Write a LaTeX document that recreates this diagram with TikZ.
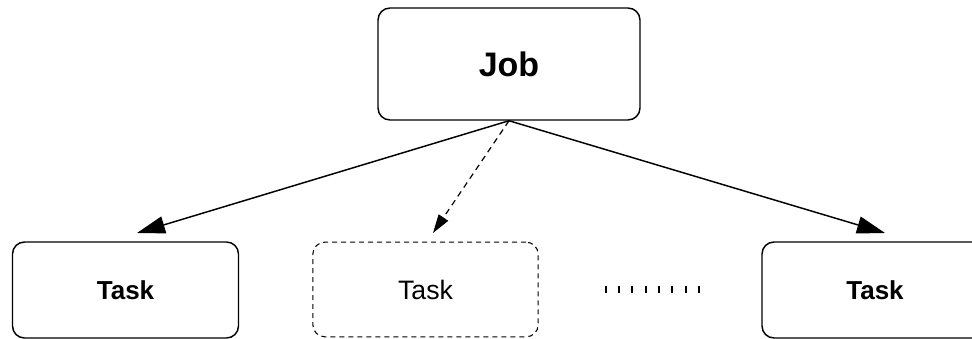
\documentclass[tikz,border=0pt]{standalone}
\usepackage{fontspec}
\setmainfont{Liberation Sans}
\usepackage{tikz}
\usetikzlibrary{arrows.meta}

\tikzset{
  jobbox/.style={draw, line width=1.1pt, rounded corners=9pt, minimum width=196.5pt, minimum height=84pt, font=\fontsize{25.5}{30}\selectfont\bfseries},
  taskbox/.style={draw, line width=1.1pt, rounded corners=9pt, minimum width=169.5pt, minimum height=72pt, font=\fontsize{19.5}{23}\selectfont\bfseries},
  ghostbox/.style={draw, line width=0.8pt, dash pattern={on 3.75pt off 3pt}, rounded corners=9pt, minimum width=169pt, minimum height=71pt, font=\fontsize{20}{24}\selectfont},
  bigarrow/.style={line width=1.1pt, -{Triangle[length=21pt,width=13pt]}},
  smallarrow/.style={line width=0.9pt, dash pattern={on 4.5pt off 3.5pt}, -{Triangle[length=14pt,width=8.5pt]}}
}

\begin{document}
\begin{tikzpicture}[x=0.75pt,y=0.75pt,yscale=-1,xscale=1]
\useasboundingbox (0,0) rectangle (972,339);

%Shape: Job box
\node [jobbox] (job) at (509,64) {Job};
%Shape: Task boxes
\node [taskbox] (taskleft) at (125.5,290) {Task};
\node [ghostbox] (taskmid) at (425.5,289.5) {Task};
\node [taskbox] (taskright) at (875,290) {Task};

%Arrow ends
\coordinate (tipleft) at (137,233);
\coordinate (tipmid) at (433,233);
\coordinate (tipright) at (885,233);

%Straight Lines
\draw [bigarrow] (job.south) -- (tipleft);
\draw [smallarrow] (job.south) -- (tipmid);
\draw [bigarrow] (job.south) -- (tipright);

%Ticks between the boxes
\coordinate (dotsstart) at (604.5,289.5);
\coordinate (dotsend) at (700,289.5);
\draw [line width=5.5pt, dash pattern={on 1.5pt off 8.5pt}] (dotsstart) -- (dotsend);
\end{tikzpicture}
\end{document}
